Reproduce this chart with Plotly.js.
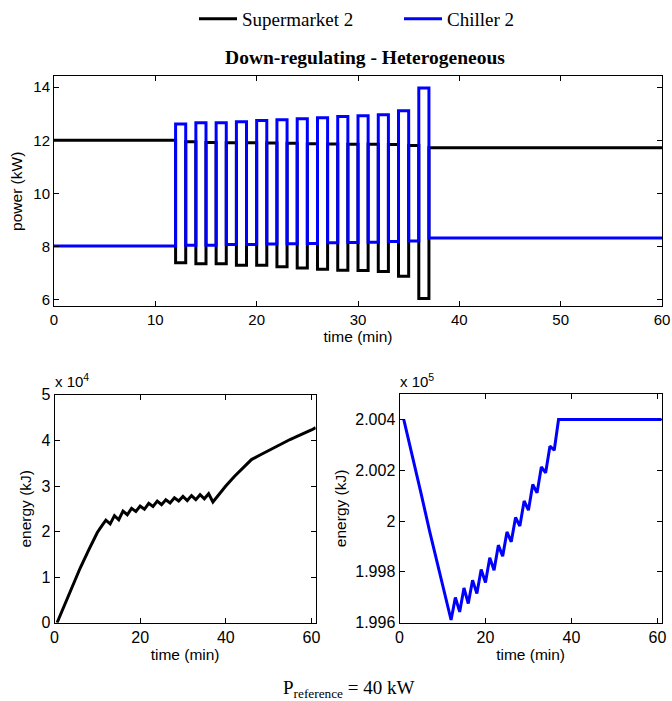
<!DOCTYPE html>
<html>
<head>
<meta charset="utf-8">
<script src="https://cdn.plot.ly/plotly-3.0.1.min.js"></script>
<style>html,body{margin:0;padding:0;background:#fff;}#chart{width:672px;height:701px;}</style>
</head>
<body>
<div id="chart"></div>
<script>
// ---------- data ----------
// top panel: step series, value holds from each time until the next one
const stepTime = [0, 12, 13, 14, 15, 16, 17, 18, 19, 20, 21, 22, 23, 24, 25, 26, 27, 28, 29, 30, 31, 32, 33, 34, 35, 36, 37, 60];
const supermarketPower = [12.0, 7.39, 11.94, 7.35, 11.92, 7.35, 11.91, 7.30, 11.91, 7.30, 11.90, 7.24, 11.89, 7.19, 11.87, 7.15, 11.86, 7.11, 11.85, 7.10, 11.85, 7.06, 11.84, 6.88, 11.80, 6.05, 11.72, 11.72];
const chillerPower = [8.02, 12.61, 8.05, 12.66, 8.05, 12.66, 8.08, 12.70, 8.08, 12.74, 8.10, 12.77, 8.11, 12.81, 8.12, 12.85, 8.14, 12.89, 8.15, 12.92, 8.16, 12.96, 8.19, 13.11, 8.21, 13.97, 8.32, 8.32];

// bottom-left: supermarket energy (x 10^4 kJ)
const smTime = [0.6, 2, 4, 6, 8, 10, 11, 12, 13, 14, 15, 16, 17, 18, 19, 20, 21, 22, 23, 24, 25, 26, 27, 28, 29, 30, 31, 32, 33, 34, 35, 36, 37, 38, 40, 42, 44, 46, 48, 50, 52, 54, 55, 56, 58, 60, 61];
const smEnergy = [0, 0.32, 0.77, 1.20, 1.60, 1.98, 2.12, 2.25, 2.17, 2.35, 2.26, 2.45, 2.37, 2.51, 2.44, 2.56, 2.49, 2.62, 2.55, 2.67, 2.59, 2.70, 2.63, 2.74, 2.67, 2.77, 2.68, 2.79, 2.70, 2.81, 2.72, 2.83, 2.65, 2.77, 3.00, 3.21, 3.40, 3.58, 3.68, 3.78, 3.88, 3.98, 4.02, 4.06, 4.14, 4.23, 4.28];

// bottom-right: chiller energy (x 10^5 kJ)
const chTime = [1, 3, 5, 7, 9, 11, 12, 13, 14, 15, 16, 17, 18, 19, 20, 21, 22, 23, 24, 25, 26, 27, 28, 29, 30, 31, 32, 33, 34, 35, 36, 37, 61];
const chEnergy = [2.0040, 2.0026, 2.0011, 1.9996, 1.9982, 1.9967, 1.9961, 1.99699, 1.99642, 1.99736, 1.99675, 1.99767, 1.99714, 1.99809, 1.99758, 1.99855, 1.99806, 1.99905, 1.99861, 1.99957, 1.99918, 2.00014, 1.99980, 2.00079, 2.00043, 2.00144, 2.00111, 2.00213, 2.00190, 2.00295, 2.00279, 2.0040, 2.0040];

// tick labels
const topXTicks = [0, 10, 20, 30, 40, 50, 60];
const topYTicks = [6, 8, 10, 12, 14];
const botXTicks = [0, 20, 40, 60];
const leftYTicks = [0, 1, 2, 3, 4, 5];
const rightYTicks = [1.996, 1.998, 2.000, 2.002, 2.004];
const rightYTickText = ['1.996', '1.998', '2', '2.002', '2.004'];

const seriesNames = ['Supermarket 2', 'Chiller 2'];
const seriesColors = ['#000000', '#0000ff'];

// ---------- layout helpers ----------
const W = 672, H = 701;
const px = v => v / W;
const py = v => (H - v) / H;

const SANS = 'Arial, "Liberation Sans", sans-serif';
const SERIF = '"Times New Roman", "Liberation Serif", serif';

function axisStyle(tickSize, extra) {
  return Object.assign({
    showline: true, mirror: 'ticks', linecolor: '#000', linewidth: 1,
    ticks: 'inside', ticklen: 5, tickcolor: '#000', tickwidth: 1,
    showgrid: false, zeroline: false, automargin: false,
    tickfont: {family: SANS, size: tickSize, color: '#000'},
    fixedrange: true
  }, extra);
}

const traces = [
  {x: stepTime, y: supermarketPower, type: 'scatter', mode: 'lines', line: {shape: 'hv', color: seriesColors[0], width: 3},
   name: seriesNames[0], xaxis: 'x', yaxis: 'y', showlegend: true},
  {x: stepTime, y: chillerPower, type: 'scatter', mode: 'lines', line: {shape: 'hv', color: seriesColors[1], width: 3},
   name: seriesNames[1], xaxis: 'x', yaxis: 'y', showlegend: true},
  {x: smTime, y: smEnergy, type: 'scatter', mode: 'lines', line: {color: seriesColors[0], width: 3},
   xaxis: 'x2', yaxis: 'y2', showlegend: false},
  {x: chTime, y: chEnergy, type: 'scatter', mode: 'lines', line: {color: seriesColors[1], width: 3},
   xaxis: 'x3', yaxis: 'y3', showlegend: false}
];

const titleFont = {family: SANS, size: 15.5, color: '#000'};

const layout = {
  width: W, height: H,
  margin: {l: 0, r: 0, t: 0, b: 0},
  paper_bgcolor: '#fff', plot_bgcolor: '#fff',
  title: {text: '<b>Down-regulating - Heterogeneous</b>', font: {family: SERIF, size: 19.5, color: '#000'},
          x: px(365), xanchor: 'center', xref: 'paper', y: py(57), yanchor: 'middle', yref: 'container'},
  showlegend: true,
  legend: {orientation: 'h', x: px(194), xanchor: 'left', y: py(17), yanchor: 'middle',
           font: {family: SERIF, size: 19, color: '#000'}, bgcolor: 'rgba(0,0,0,0)',
           entrywidth: 152, itemwidth: 38},
  xaxis: axisStyle(15, {domain: [px(54), px(662)], range: [0, 60], tickvals: topXTicks, anchor: 'y',
                    title: {text: 'time (min)', font: titleFont, standoff: 3}}),
  yaxis: axisStyle(15, {domain: [py(305), py(74.7)], range: [5.76, 14.4], tickvals: topYTicks, anchor: 'x',
                    title: {text: 'power (kW)', font: titleFont, standoff: 6}}),
  xaxis2: axisStyle(16, {domain: [px(54.5), px(315.7)], range: [0, 61], tickvals: botXTicks, anchor: 'y2',
                     title: {text: 'time (min)', font: titleFont, standoff: 3}}),
  yaxis2: axisStyle(16, {domain: [py(622.5), py(394)], range: [0, 5], tickvals: leftYTicks, anchor: 'x2',
                     title: {text: 'energy (kJ)', font: titleFont, standoff: 5}}),
  xaxis3: axisStyle(16, {domain: [px(399.5), px(661.7)], range: [0, 61], tickvals: botXTicks, anchor: 'y3',
                     title: {text: 'time (min)', font: titleFont, standoff: 3}}),
  yaxis3: axisStyle(16, {domain: [py(622.3), py(393.3)], range: [1.996, 2.005], tickvals: rightYTicks, ticktext: rightYTickText, anchor: 'x3',
                     title: {text: 'energy (kJ)', font: titleFont, standoff: 4}}),
  annotations: [
    {text: 'x 10<sup>4</sup>', xref: 'paper', yref: 'paper', x: px(53), y: py(380), xanchor: 'left', yanchor: 'middle',
     showarrow: false, font: {family: SANS, size: 15, color: '#000'}},
    {text: 'x 10<sup>5</sup>', xref: 'paper', yref: 'paper', x: px(398), y: py(380), xanchor: 'left', yanchor: 'middle',
     showarrow: false, font: {family: SANS, size: 15, color: '#000'}},
    {text: 'P<sub>reference</sub> = 40 kW', xref: 'paper', yref: 'paper', x: px(348), y: py(689), xanchor: 'center', yanchor: 'middle',
     showarrow: false, font: {family: SERIF, size: 19, color: '#000'}}
  ]
};

Plotly.newPlot('chart', traces, layout, {displayModeBar: false, staticPlot: true});
</script>
</body>
</html>
